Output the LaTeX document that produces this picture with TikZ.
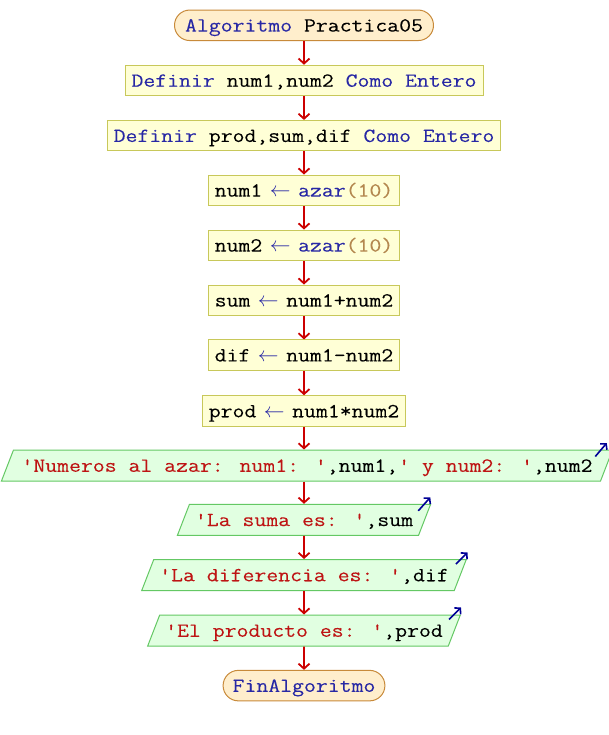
\documentclass[tikz,border=0pt]{standalone}
\usepackage{fontspec}
\newfontfamily\codefont[FakeStretch=1.155,FakeBold=0.08]{Latin Modern Mono}
\usetikzlibrary{shapes.geometric,shapes.misc,arrows.meta,calc}
\definecolor{kwblue}{RGB}{40,40,165}
\definecolor{numcol}{RGB}{180,136,80}
\definecolor{strred}{RGB}{190,20,20}
\definecolor{termfill}{RGB}{255,238,204}
\definecolor{termdraw}{RGB}{200,138,58}
\definecolor{procfill}{RGB}{255,255,214}
\definecolor{procdraw}{RGB}{200,200,90}
\definecolor{outfill}{RGB}{225,255,225}
\definecolor{outdraw}{RGB}{100,200,100}
\definecolor{flowred}{RGB}{204,0,0}
\definecolor{outblue}{RGB}{0,0,150}
\newcommand{\pskw}[1]{\textcolor{kwblue}{#1}}
\newcommand{\psnm}[1]{\textcolor{numcol}{#1}}
\newcommand{\psst}[1]{\textcolor{strred}{#1}}
\newcommand{\psarr}{\textcolor{kwblue}{\makebox[12pt][c]{$\leftarrow$}}}
\begin{document}
\begin{tikzpicture}[x=1pt,y=-1pt,
  every node/.style={font=\codefont\fontsize{20}{24}\selectfont, text height=16pt, text depth=3.5pt},
  term/.style={rounded rectangle, draw=termdraw, fill=termfill, line width=1pt, inner xsep=7pt, inner ysep=5pt, minimum height=30.5pt},
  proc/.style={rectangle, draw=procdraw, fill=procfill, line width=1pt, inner xsep=6.5pt, inner ysep=5pt, minimum height=30.5pt},
  outp/.style={trapezium, trapezium left angle=68.8, trapezium right angle=111.2, draw=outdraw, fill=outfill, line width=1pt, inner xsep=5.5pt, inner ysep=5.75pt, minimum height=31pt},
  flow/.style={draw=flowred, line width=1.8pt, -{Straight Barb[length=5pt,width=11pt]}},
  outarrow/.style={draw=outblue, line width=1.6pt, -{Straight Barb[length=4pt,width=9pt]}}
]
\useasboundingbox (0,0) rectangle (608,735);
\path[fill=white] (0,0) rectangle (608,735);

\node[term] (start) at (304,25.3) {\pskw{Algoritmo} Practica05};
\node[proc] (d1) at (304,80.5) {\pskw{Definir} num1,num2 \pskw{Como Entero}};
\node[proc] (d2) at (304,135.7) {\pskw{Definir} prod,sum,dif \pskw{Como Entero}};
\node[proc] (a1) at (304,190.3) {num1 \psarr{} \pskw{azar}\psnm{(10)}};
\node[proc] (a2) at (304,245.3) {num2 \psarr{} \pskw{azar}\psnm{(10)}};
\node[proc] (a3) at (304,300.3) {sum \psarr{} num1+num2};
\node[proc] (a4) at (304,355.2) {dif \psarr{} num1-num2};
\node[proc] (a5) at (304,411) {prod \psarr{} num1*num2};
\node[outp, inner xsep=8pt] (o1) at (307,465.5) {\psst{'Numeros al azar: num1: '},num1,\psst{' y num2: '},num2};
\node[outp] (o2) at (304,519.8) {\psst{'La suma es: '},sum};
\node[outp] (o3) at (304,575) {\psst{'La diferencia es: '},dif};
\node[outp] (o4) at (304,630.5) {\psst{'El producto es: '},prod};
\node[term, inner xsep=6pt] (stop) at (304,685.6) {\pskw{FinAlgoritmo}};

\draw[flow] (start.south) -- (d1.north);
\draw[flow] (d1.south) -- (d2.north);
\draw[flow] (d2.south) -- (a1.north);
\draw[flow] (a1.south) -- (a2.north);
\draw[flow] (a2.south) -- (a3.north);
\draw[flow] (a3.south) -- (a4.north);
\draw[flow] (a4.south) -- (a5.north);
\draw[flow] (a5.south) -- (a5.south |- o1.north);
\draw[flow] (o1.south -| o2.north) -- (o2.north);
\draw[flow] (o2.south) -- (o3.north);
\draw[flow] (o3.south) -- (o4.north);
\draw[flow] (o4.south) -- (stop.north);

\draw[outarrow] ($(o1.top right corner)+(-18,7)$) -- ++(11.5,-13.5);
\draw[outarrow] ($(o2.top right corner)+(-13,7)$) -- ++(12,-13.5);
\draw[outarrow] ($(o3.top right corner)+(-11,5)$) -- ++(11.5,-11.5);
\draw[outarrow] ($(o4.top right corner)+(-12,5)$) -- ++(12,-12);
\end{tikzpicture}
\end{document}
